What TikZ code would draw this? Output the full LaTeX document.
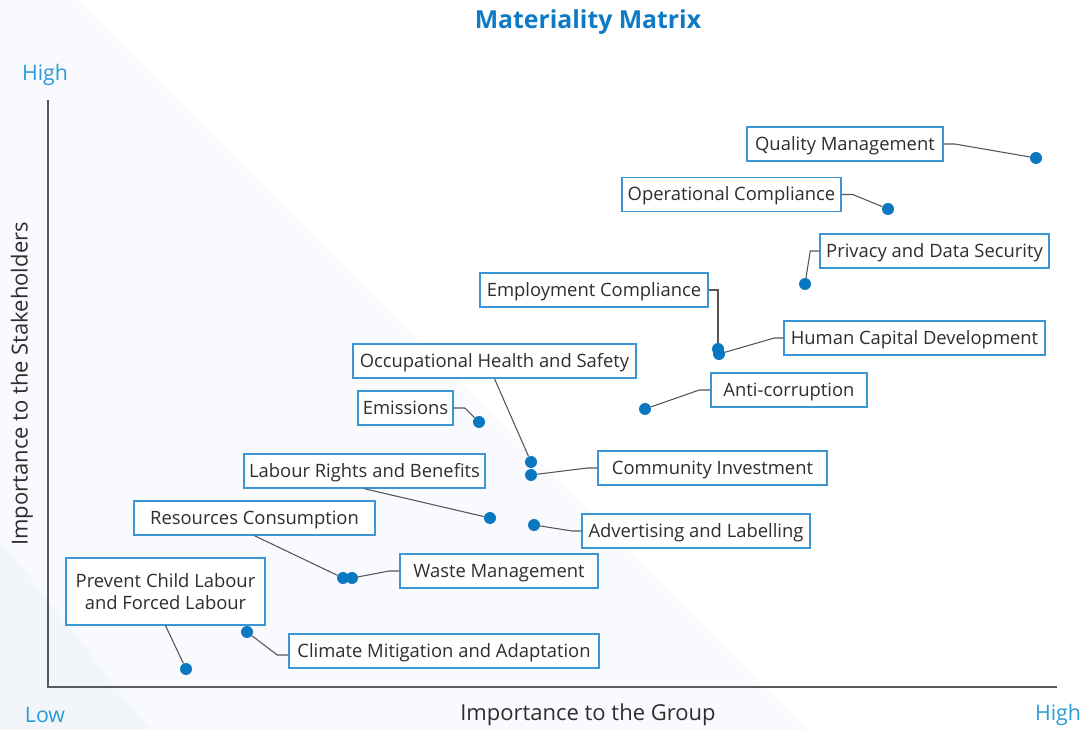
\documentclass[tikz,border=0pt]{standalone}
\usepackage{fontspec}
\setmainfont{Open Sans}
\usepackage{xcolor}
\usepackage{tikz}
\definecolor{titleblue}{HTML}{0E7AC4}
\definecolor{lightblue}{HTML}{2A9BD8}
\definecolor{boxblue}{HTML}{3A97D3}
\definecolor{dotblue}{HTML}{0A78C0}
\definecolor{axisgray}{HTML}{5A5A5A}
\definecolor{linegray}{HTML}{555555}
\definecolor{shadeA}{HTML}{F9FAFD}
\definecolor{shadeB}{HTML}{F2F6FA}

\begin{document}
\begin{tikzpicture}[x=0.75pt,y=-0.75pt,
    box/.style={draw=boxblue,line width=1.1pt,fill=white,text=black!82,
        inner xsep=3pt,minimum height=25.5pt,font=\fontsize{13.8}{16.5}\selectfont,align=center},
    topic/.style={box,text height=11pt,text depth=1.3pt},
    boxw/.style={minimum width=#1*0.75pt},
    dot/.style={circle,fill=dotblue,inner sep=0pt,minimum size=9pt},
    leader/.style={draw=linegray,line width=0.8pt},
    axis/.style={draw=axisgray,line width=1.5pt},
    scale text/.style={text=lightblue,font=\fontsize{16}{19}\selectfont}]
        \useasboundingbox (0,0) rectangle (1089,730);
        \fill[shadeA] (0,0) -- (77,0) -- (807,730) -- (0,730) -- cycle;
        \fill[shadeB] (0,540) -- (150,730) -- (0,730) -- cycle;

        \node[text=titleblue,font=\bfseries\fontsize{18.6}{22}\selectfont] (title) at (588,22) {Materiality Matrix};
        \draw[axis] (48,100) -- (48,687) -- (1057,687);
        \node[scale text] (yhigh) at (45,75) {High};
        \node[scale text] (xlow) at (45,715) {Low};
        \node[scale text] (xhigh) at (1058,715) {High};
        \node[font=\fontsize{16.5}{19}\selectfont,text=black!82] (xlabel) at (588,715) {Importance to the Group};
        \node[font=\fontsize{16.5}{19}\selectfont,text=black!82,rotate=90] (ylabel) at (22,384) {Importance to the Stakeholders};

        % topics
        \node[topic,boxw=196] (qm) at (845,144) {Quality Management};
        \node[topic,boxw=219] (oc) at (731.5,194.5) {Operational Compliance};
        \node[topic,boxw=229] (pds) at (934.5,251) {Privacy and Data Security};
        \node[topic,boxw=228] (ec) at (594,290) {Employment Compliance};
        \node[topic,boxw=261] (hcd) at (914.5,338) {Human Capital Development};
        \node[topic,boxw=156] (ac) at (789,390) {Anti-corruption};
        \node[topic,boxw=283] (ohs) at (494.5,361) {Occupational Health and Safety};
        \node[topic,boxw=95] (em) at (405.5,408) {Emissions};
        \node[topic,boxw=229] (ci) at (712.5,468) {Community Investment};
        \node[topic,boxw=241] (lrb) at (364.5,471) {Labour Rights and Benefits};
        \node[topic,boxw=228] (al) at (696,531) {Advertising and Labelling};
        \node[topic,boxw=241] (rc) at (254.5,518) {Resources Consumption};
        \node[topic,boxw=198] (wm) at (499,571) {Waste Management};
        \node[box,boxw=199,minimum height=50pt] (pcl) at (165.5,591.5) {Prevent Child Labour\\and Forced Labour};
        \node[topic,boxw=310] (cma) at (444,651) {Climate Mitigation and Adaptation};

        % points
        \node[dot] (qmdot) at (1036,158) {};
        \node[dot] (ocdot) at (888,209) {};
        \node[dot] (pdsdot) at (805,284) {};
        \node[dot] (ecdot) at (718,349) {};
        \node[dot] (hcddot) at (719,354) {};
        \node[dot] (acdot) at (645,409) {};
        \node[dot] (ohsdot) at (531,462) {};
        \node[dot] (emdot) at (479,422) {};
        \node[dot] (cidot) at (531,475) {};
        \node[dot] (lrbdot) at (490,518) {};
        \node[dot] (aldot) at (534,525) {};
        \node[dot] (rcdot) at (343,578) {};
        \node[dot] (wmdot) at (352,578) {};
        \node[dot] (pcldot) at (186,669) {};
        \node[dot] (cmadot) at (247,632) {};

        % leaders
        \draw[leader] (qm.east) -- ++(11,0) -- (qmdot);
        \draw[leader] (oc.east) -- ++(11,0) -- (ocdot);
        \draw[leader] (pds.west) -- ++(-9,0) -- (pdsdot);
        \draw[leader] (ec.east) -| (ecdot);
        \draw[leader] (hcd.west) -- ++(-9,0) -- (hcddot);
        \draw[leader] (ac.west) -- ++(-11,0) -- (acdot);
        \draw[leader] (ohs.south) -- (ohsdot);
        \draw[leader] (em.east) -- ++(11,0) -- (emdot);
        \draw[leader] (ci.west) -- ++(-10,0) -- (cidot);
        \draw[leader] (lrb.south) -- (lrbdot);
        \draw[leader] (al.west) -- ++(-9,0) -- (aldot);
        \draw[leader] (rc.south) -- (rcdot);
        \draw[leader] (wm.west) -- ++(-10,0) -- (wmdot);
        \draw[leader] (pcl.south) -- (pcldot);
        \draw[leader] (cma.west) ++(0,4) -- ++(-11,0) -- (cmadot);
\end{tikzpicture}
\end{document}
